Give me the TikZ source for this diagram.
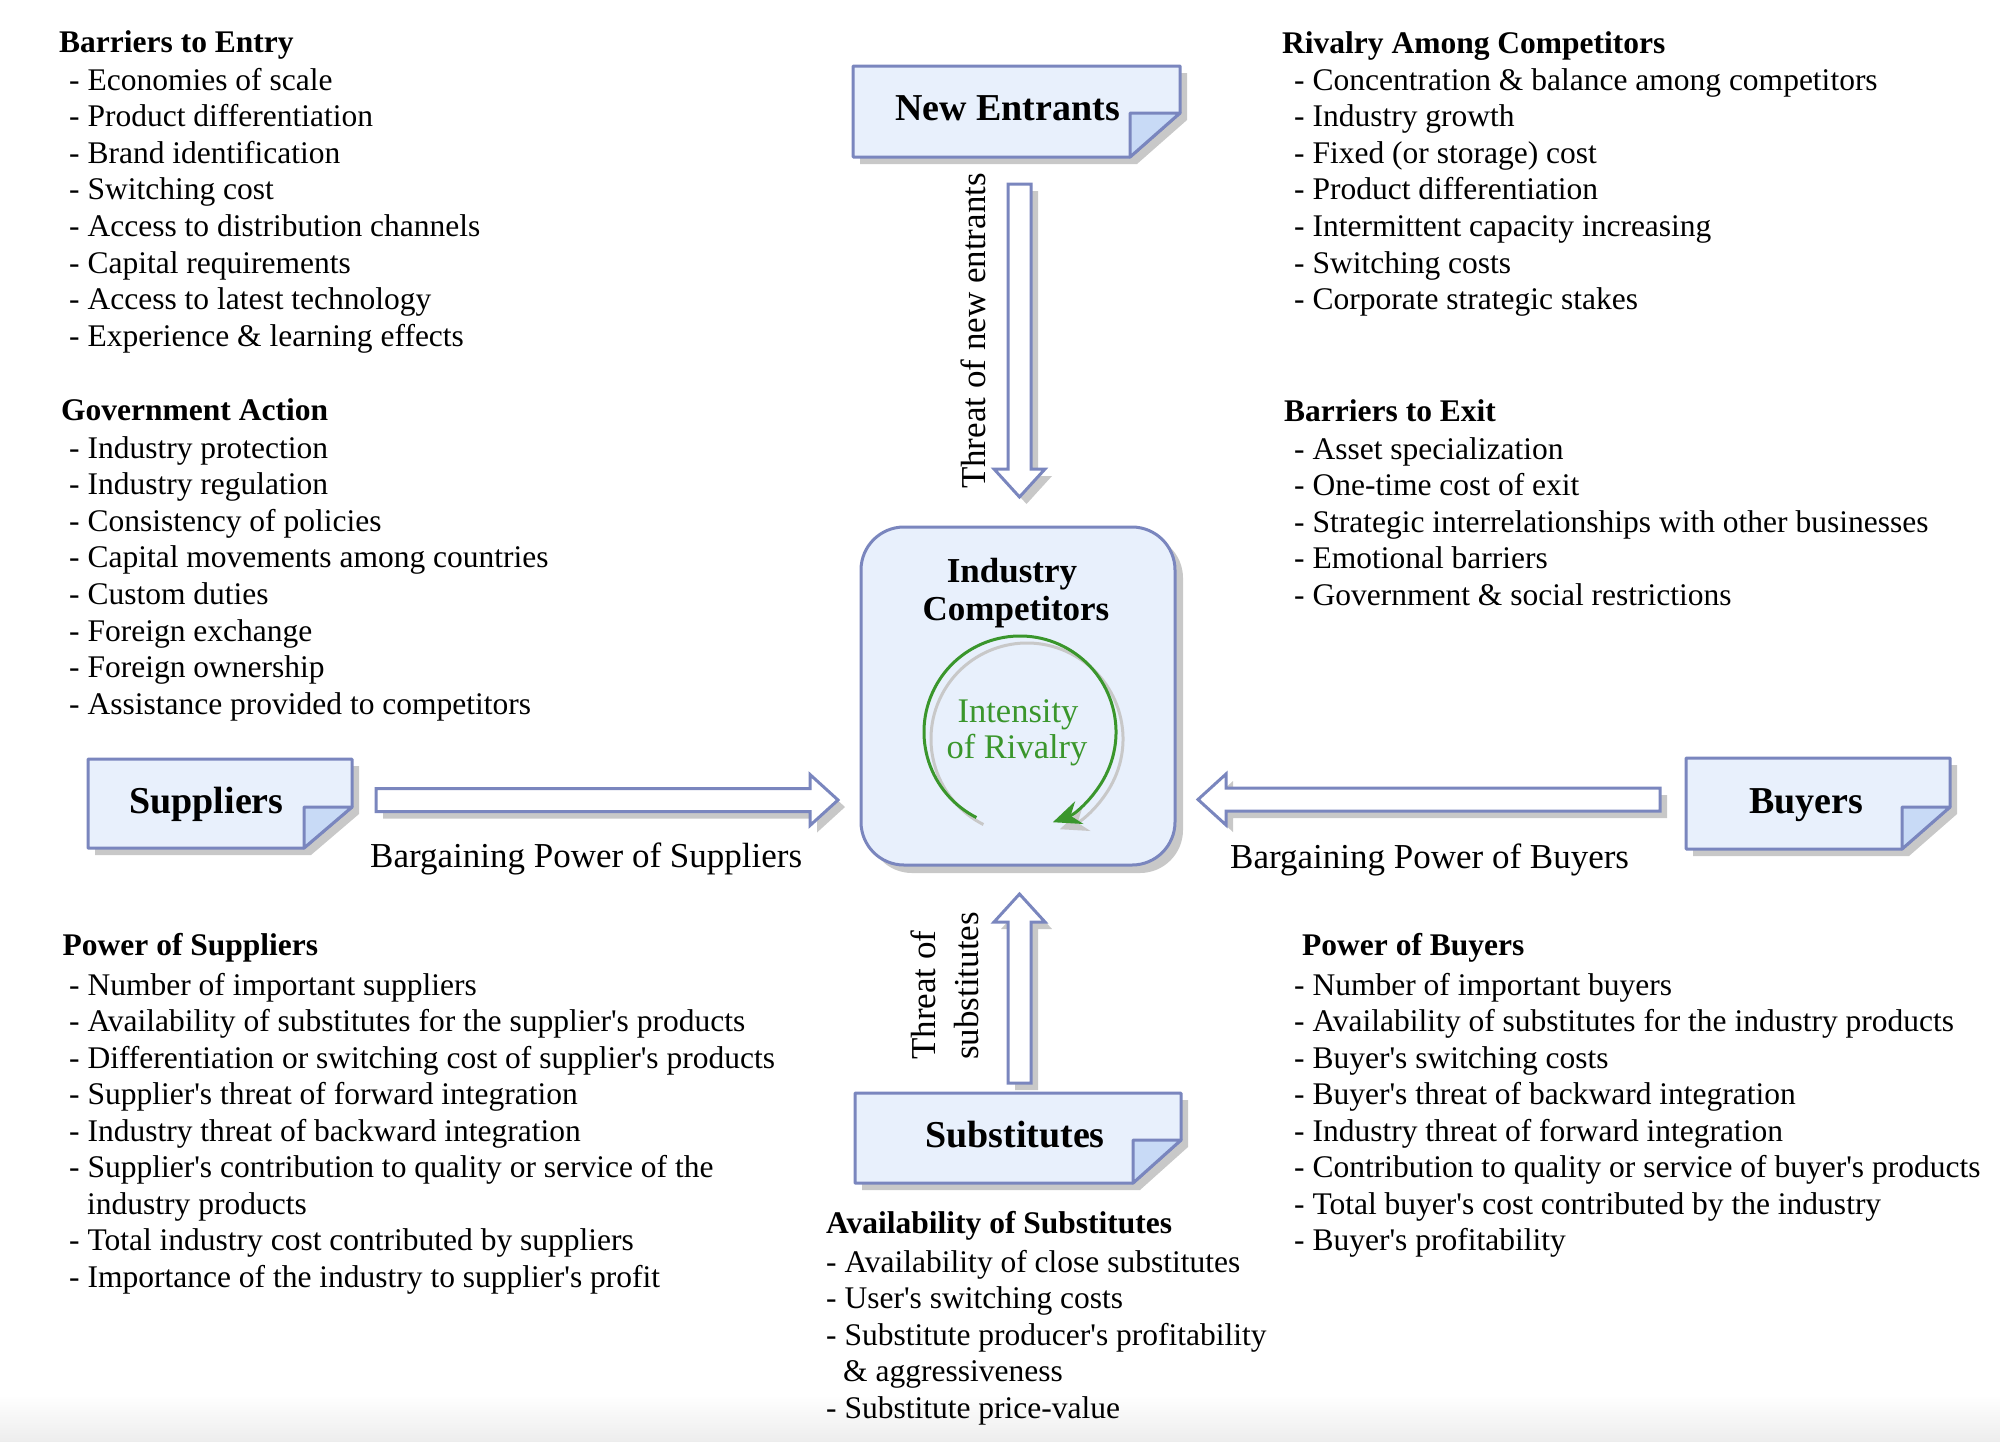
\documentclass[tikz,border=0pt]{standalone}
\usepackage{fontspec}
\setmainfont{Liberation Serif}[Ligatures=TeXOff]
\usetikzlibrary{arrows.meta,calc,shadows}
\definecolor{cardfill}{RGB}{232,240,252}
\definecolor{foldfill}{RGB}{200,218,246}
\definecolor{edgeblue}{RGB}{122,134,190}
\definecolor{shadowgray}{RGB}{200,200,200}
\definecolor{rivalgreen}{RGB}{58,150,44}
% card with folded corner: #1 node name, #2 fold width, #3 fold height
\newcommand\drawcard[3]{%
  \fill[shadowfill] ($(#1.north west)+(7,7)$) -- ($(#1.north east)+(7,7)$) -- ($(#1.south east)+(7,7-#3)$) -- ($(#1.south east)+(7-#2,7)$) -- ($(#1.south west)+(7,7)$) -- cycle;
  \draw[cardframe, fill=cardfill] (#1.north west) -- (#1.north east) -- ($(#1.south east)+(0,-#3)$) -- ($(#1.south east)+(-#2,0)$) -- (#1.south west) -- cycle;
  \draw[cardframe, fill=foldfill] ($(#1.south east)+(-#2,0)$) -- ($(#1.south east)+(-#2,-#3)$) -- ($(#1.south east)+(0,-#3)$) -- cycle;
}
% block arrow: #1 start coordinate, #2 rotation, #3 length
\newcommand\blockarrow[3]{%
  \fill[shadowfill, shift={($(#1)+(7,7)$)}, rotate=#2] (0,-11.5) -- (#3-28,-11.5) -- (#3-28,-25.5) -- (#3,0) -- (#3-28,25.5) -- (#3-28,11.5) -- (0,11.5) -- cycle;
  \draw[arrowbody, shift={(#1)}, rotate=#2] (0,-11.5) -- (#3-28,-11.5) -- (#3-28,-25.5) -- (#3,0) -- (#3-28,25.5) -- (#3-28,11.5) -- (0,11.5) -- cycle;
}
\begin{document}
\begin{tikzpicture}[x=1pt,y=-1pt,
  listtxt/.style={anchor=base west, inner sep=0pt, font=\fontsize{31.5}{36.6}\selectfont},
  listhead/.style={anchor=base west, inner sep=0pt, font=\fontsize{31.5}{36.6}\selectfont\bfseries},
  cardtitle/.style={anchor=base, inner sep=0pt, font=\fontsize{38}{44}\selectfont\bfseries},
  ictitle/.style={anchor=base, inner sep=0pt, font=\fontsize{35}{40}\selectfont\bfseries},
  armlabel/.style={inner sep=0pt, font=\fontsize{35}{42}\selectfont},
  rivaltxt/.style={anchor=base, inner sep=0pt, text=rivalgreen, font=\fontsize{34.5}{40}\selectfont},
  cardframe/.style={draw=edgeblue, line width=3pt, line join=round},
  cardbox/.style={rectangle, draw=none, inner sep=0pt, outer sep=0pt},
  arrowbody/.style={draw=edgeblue, fill=white, line width=3pt, line join=miter},
  shadowfill/.style={fill=shadowgray},
]
\useasboundingbox (0,0) rectangle (2000,1441);
\fill[white] (0,0) rectangle (2000,1441);
\shade[top color=white, bottom color=black!7] (0,1395) rectangle (2000,1441);

% ---------- cards ----------
\node[cardbox, minimum width=327pt, minimum height=91pt] (ne) at (1016.5,111.5) {};
\node[cardbox, minimum width=264pt, minimum height=89pt] (su) at (220,803.5) {};
\node[cardbox, minimum width=264pt, minimum height=91pt] (bu) at (1818,803.5) {};
\node[cardbox, minimum width=326pt, minimum height=90pt] (sb) at (1018,1138) {};
\drawcard{ne}{50}{44}
\drawcard{su}{48}{41}
\drawcard{bu}{48}{42}
\drawcard{sb}{48}{43}
\node[cardtitle] (ne-t) at (1007.5,120) {New Entrants};
\node[cardtitle] (su-t) at (206.5,813) {Suppliers};
\node[cardtitle] (bu-t) at (1806,813) {Buyers};
\node[cardtitle] (sb-t) at (1015,1147) {Substitutes};

% ---------- centre ----------
\node[draw=edgeblue, fill=cardfill, line width=3pt, rounded corners=43pt,
      minimum width=314pt, minimum height=338pt, inner sep=0pt,
      drop shadow={shadow xshift=8pt, shadow yshift=-8pt, opacity=1, fill=shadowgray}] (ic) at (1018,696) {};
\node[ictitle] (ic-t1) at (1012,582) {Industry};
\node[ictitle] (ic-t2) at (1016,620) {Competitors};
\coordinate (rc) at (1020,732);
\draw[shadowgray, line width=3pt, -{Stealth[length=28pt,width=24pt]}]
  ($(rc)+(7,7)+(243:96pt)$) arc[start angle=243, end angle=-70, radius=96pt];
\draw[rivalgreen, line width=3pt, -{Stealth[length=28pt,width=24pt]}]
  ($(rc)+(243:96pt)$) arc[start angle=243, end angle=-70, radius=96pt];
\node[rivaltxt] (iv1) at (1018,722) {Intensity};
\node[rivaltxt] (iv2) at (1017,758) {of Rivalry};

% ---------- block arrows ----------
\coordinate (a-ne) at ($(ne.south)+(3,27)$);
\coordinate (a-sb) at ($(sb.north)+(1.5,-10)$);
\coordinate (a-su) at ($(su.east)+(24,-3.5)$);
\coordinate (a-bu) at ($(bu.west)+(-26,-4)$);
\blockarrow{a-ne}{-90}{313}
\blockarrow{a-sb}{90}{189}
\blockarrow{a-su}{0}{462}
\blockarrow{a-bu}{180}{462}

\node[armlabel, rotate=90, anchor=base] (l-ne) at (985,331) {Threat of new entrants};
\node[armlabel, rotate=90, anchor=base west] (l-sb1) at (935,1060) {Threat of};
\node[armlabel, rotate=90, anchor=base west] (l-sb2) at (978,1060) {substitutes};
\node[armlabel, anchor=base west] (l-su) at (370,867) {Bargaining Power of Suppliers};
\node[armlabel, anchor=base west] (l-bu) at (1230,868) {Bargaining Power of Buyers};

% ---------- lists ----------
\node[listhead] (h-be) at (59,52) {Barriers to Entry};
\foreach \t [count=\i] in {Economies of scale, Product differentiation, Brand identification, Switching cost, Access to distribution channels, Capital requirements, Access to latest technology, Experience \& learning effects}
  \node[listtxt] (be\i) at (69,{90+36.6*(\i-1)}) {- \t};

\node[listhead] (h-ga) at (61,420) {Government Action};
\foreach \t [count=\i] in {Industry protection, Industry regulation, Consistency of policies, Capital movements among countries, Custom duties, Foreign exchange, Foreign ownership, Assistance provided to competitors}
  \node[listtxt] (ga\i) at (69,{458+36.6*(\i-1)}) {- \t};

\node[listhead] (h-ps) at (62.5,955) {Power of Suppliers};
\foreach \t [count=\i] in {Number of important suppliers, Availability of substitutes for the supplier's products, Differentiation or switching cost of supplier's products, Supplier's threat of forward integration, Industry threat of backward integration, Supplier's contribution to quality or service of the}
  \node[listtxt] (ps\i) at (69,{995+36.5*(\i-1)}) {- \t};
\node[listtxt] (ps6b) at (87,1214) {industry products};
\foreach \t [count=\i from 7] in {Total industry cost contributed by suppliers, Importance of the industry to supplier's profit}
  \node[listtxt] (ps\i) at (69,{995+36.5*\i}) {- \t};

\node[listhead] (h-rc) at (1282,53) {Rivalry Among Competitors};
\foreach \t [count=\i] in {Concentration \& balance among competitors, Industry growth, Fixed (or storage) cost, Product differentiation, Intermittent capacity increasing, Switching costs, Corporate strategic stakes}
  \node[listtxt] (rc\i) at (1294,{90+36.6*(\i-1)}) {- \t};

\node[listhead] (h-bx) at (1284,421) {Barriers to Exit};
\foreach \t [count=\i] in {Asset specialization, One-time cost of exit, Strategic interrelationships with other businesses, Emotional barriers, Government \& social restrictions}
  \node[listtxt] (bx\i) at (1294,{459+36.6*(\i-1)}) {- \t};

\node[listhead] (h-pb) at (1302,955) {Power of Buyers};
\foreach \t [count=\i] in {Number of important buyers, Availability of substitutes for the industry products, Buyer's switching costs, Buyer's threat of backward integration, Industry threat of forward integration, Contribution to quality or service of buyer's products, Total buyer's cost contributed by the industry, Buyer's profitability}
  \node[listtxt] (pb\i) at (1294,{995+36.5*(\i-1)}) {- \t};

\node[listhead] (h-as) at (826,1233) {Availability of Substitutes};
\foreach \t [count=\i] in {Availability of close substitutes, User's switching costs, Substitute producer's profitability}
  \node[listtxt] (as\i) at (826,{1272+36.5*(\i-1)}) {- \t};
\node[listtxt] (as3b) at (843,1381) {\& aggressiveness};
\node[listtxt] (as4) at (826,1418) {- Substitute price-value};
\end{tikzpicture}
\end{document}
